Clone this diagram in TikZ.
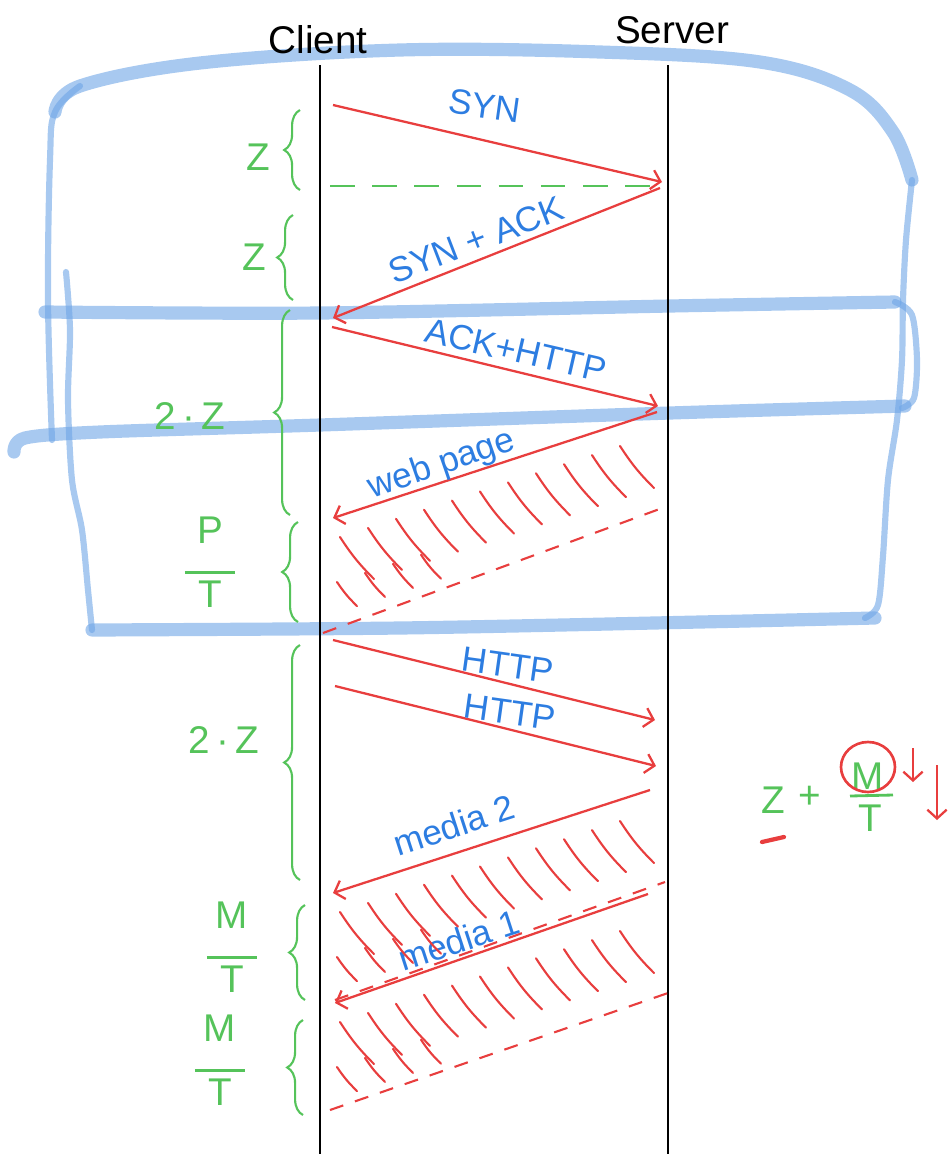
\documentclass[tikz,border=0pt]{standalone}
\usepackage{fontspec}
\setmainfont{Liberation Sans}
\usetikzlibrary{arrows.meta,decorations.pathreplacing}
\definecolor{penred}{RGB}{232,62,62}
\definecolor{penblue}{RGB}{45,125,225}
\definecolor{pengreen}{RGB}{85,195,90}
\definecolor{marker}{RGB}{110,165,230}
\newcommand\hfrac[2]{\begin{tabular}{@{}c@{}}#1\\[-7pt]\rule{1.3em}{1.6pt}\\[-5pt]#2\end{tabular}}
\tikzset{
  band/.style={marker, opacity=0.6, line width=7.5pt, line cap=round, line join=round},
  bandthin/.style={band, line width=3.5pt},
  life/.style={line width=1.2pt},
  msg/.style={penred, line width=1.3pt, -{Straight Barb[length=5pt,width=11pt]}},
  endline/.style={penred, line width=1.2pt, dash pattern=on 8pt off 7pt},
  wait/.style={pengreen, line width=1.3pt, dash pattern=on 14pt off 10pt},
  hatch/.style={penred, line width=1.2pt, line cap=round},
  brc/.style={pengreen, line width=1.2pt, decorate, decoration={brace, amplitude=9pt}},
  head/.style={font=\fontsize{22}{24}\selectfont, inner sep=0pt},
  lbl/.style={penblue, font=\fontsize{20}{22}\selectfont, inner sep=0pt},
  glab/.style={pengreen, font=\fontsize{22}{24}\selectfont, inner sep=0pt}
}
\begin{document}
\begin{tikzpicture}[x=0.02cm, y=-0.02cm]
  \useasboundingbox (0,0) rectangle (950,1154);
  \draw[band] plot[smooth, tension=0.6] coordinates {(55,112) (80,86) (200,63) (400,50) (600,52) (760,62) (850,90) (893,132) (912,180)};
  \draw[bandthin] plot[smooth, tension=0.6] coordinates {(52,440) (48,300) (50,160) (55,112) (80,86)};
  \draw[bandthin] plot[smooth] coordinates {(912,180) (906,240) (903,300) (902,360) (897,420) (888,480) (883,556) (878,605) (865,618)};
  \draw[band] plot[smooth] coordinates {(875,618) (700,622) (400,628) (92,630)};
  \draw[bandthin] plot[smooth] coordinates {(92,630) (88,590) (82,530) (72,480) (68,400) (70,330) (66,272)};
  \draw[band] plot[smooth] coordinates {(45,312) (320,313) (670,306) (895,302)};
  \draw[bandthin] plot[smooth] coordinates {(895,302) (912,315) (917,360) (914,398) (902,408)};
  \draw[band] plot[smooth] coordinates {(905,406) (670,413) (320,425) (100,432) (25,438) (14,452)};

  \coordinate (ctop) at (320,65);  \coordinate (cbot) at (320,1154);
  \coordinate (stop) at (668,65);  \coordinate (sbot) at (668,1154);
  \draw[life] (ctop) -- (cbot);
  \draw[life] (stop) -- (sbot);
  \node[head] (client) at (318,40) {Client};
  \node[head] (server) at (672,30) {Server};

  \coordinate (c1) at (333,105);  \coordinate (s1) at (662,182);
  \coordinate (s2) at (660,188);  \coordinate (c2) at (333,318);
  \coordinate (c3) at (332,327);  \coordinate (s3) at (658,406);
  \coordinate (s4) at (657,412);  \coordinate (c4) at (333,518);
  \coordinate (c5) at (333,640);  \coordinate (s5) at (655,720);
  \coordinate (c6) at (335,686);  \coordinate (s6) at (656,766);
  \coordinate (s7) at (650,790);  \coordinate (c7) at (333,893);
  \coordinate (s8) at (648,894);  \coordinate (c8) at (335,1003);
  \coordinate (g1) at (330,186);  \coordinate (g2) at (660,186);
  \coordinate (e1) at (323,633);  \coordinate (f1) at (665,507);
  \coordinate (e2) at (335,1000); \coordinate (f2) at (665,882);
  \coordinate (e3) at (330,1110); \coordinate (f3) at (668,993);

  \draw[wait] (g1) -- (g2);
  \draw[msg] (c1) -- (s1);
  \draw[msg] (s2) -- (c2);
  \draw[msg] (c3) -- (s3);
  \draw[msg] (s4) -- (c4);
  \draw[msg] (c5) -- (s5);
  \draw[msg] (c6) -- (s6);
  \draw[msg] (s7) -- (c7);
  \draw[msg] (s8) -- (c8);
  \draw[endline] (e1) -- (f1);
  \draw[endline] (e2) -- (f2);
  \draw[endline] (e3) -- (f3);

  \node[lbl, rotate=-8] (syn) at (485,106) {SYN};
  \node[lbl, rotate=21] (synack) at (476,240) {SYN + ACK};
  \node[lbl, rotate=-13] (ackhttp) at (516,350) {ACK+HTTP};
  \node[lbl, rotate=19] (webpage) at (442,465) {web page};
  \node[lbl, rotate=-8] (http1) at (508,665) {HTTP};
  \node[lbl, rotate=-8] (http2) at (510,712) {HTTP};
  \node[lbl, rotate=18] (media2) at (454,825) {media 2};
  \node[lbl, rotate=18] (media1) at (459,940) {media 1};

  \foreach \yc in {537,912,1022}{
    \foreach \i in {0,...,10}{
      \pgfmathsetmacro\hx{340+28*\i}
      \pgfmathsetmacro\hy{\yc-9.1*\i}
      \draw[hatch] (\hx,\hy) to[bend right=6] ++(34,42);
    }
    \foreach \i in {0,...,3}{
      \pgfmathsetmacro\hx{337+28*\i}
      \pgfmathsetmacro\hy{\yc+45-9.1*\i}
      \draw[hatch] (\hx,\hy) to[bend right=6] ++(20,24);
    }
  }

  \foreach \bx/\ya/\yb/\lx/\ly/\lab in {300/110/190/258/157/Z, 293/215/300/254/257/Z,
      290/310/515/190/416/2\,·\,Z, 298/522/622/210/567/{\hfrac{P}{T}},
      300/645/880/224/740/2\,·\,Z, 305/905/1000/232/952/{\hfrac{M}{T}},
      303/1020/1115/220/1065/{\hfrac{M}{T}}}{
    \draw[brc] (\bx,\yb) -- (\bx,\ya);
    \node[glab] (t\ya) at (\lx,\ly) {\lab};
  }

  \node[glab] (fz) at (773,800) {Z};
  \node[glab] (fplus) at (810,797) {+};
  \node[glab] (fm) at (868,776) {M};
  \node[glab] (ft) at (870,818) {T};
  \coordinate (fb1) at (850,796); \coordinate (fb2) at (893,795);
  \draw[pengreen, line width=1.6pt] (fb1) -- (fb2);
  \draw[penred, line width=1.5pt] (868,767) ellipse [x radius=0.54cm, y radius=0.5cm];
  \coordinate (u1) at (762,842); \coordinate (u2) at (784,837);
  \draw[penred, line width=2.4pt, line cap=round] (u1) -- (u2);
  \coordinate (a1) at (913,748); \coordinate (a2) at (913,782);
  \coordinate (b1) at (937,765); \coordinate (b2) at (937,820);
  \draw[msg] (a1) -- (a2);
  \draw[msg] (b1) -- (b2);
\end{tikzpicture}
\end{document}
